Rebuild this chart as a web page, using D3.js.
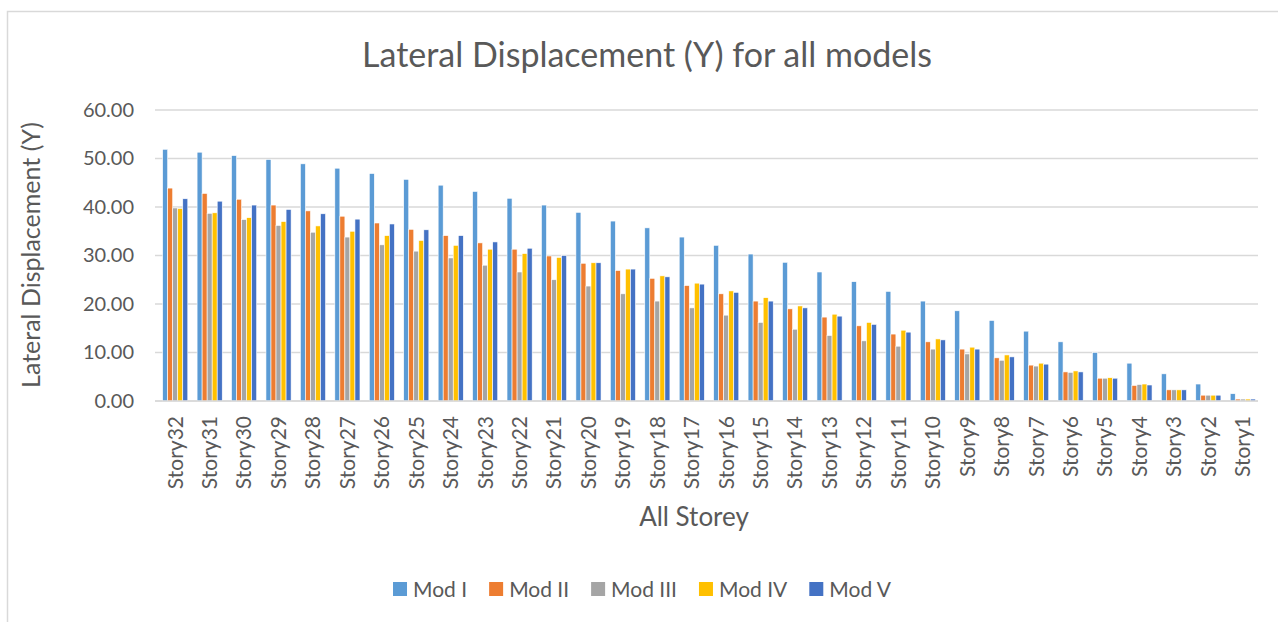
<!DOCTYPE html>
<html>
<head>
<meta charset="utf-8">
<script src="https://cdn.jsdelivr.net/npm/d3@7"></script>
<style>
  body { margin: 0; background: #fff; }
  text { font-family: Lato, "Open Sans", sans-serif; fill: #595959; }
</style>
</head>
<body>
<div id="chart"></div>
<script>
// storeys, top to bottom as in the chart
var storeys = ["Story32","Story31","Story30","Story29","Story28","Story27","Story26","Story25",
    "Story24","Story23","Story22","Story21","Story20","Story19","Story18","Story17",
    "Story16","Story15","Story14","Story13","Story12","Story11","Story10","Story9",
    "Story8","Story7","Story6","Story5","Story4","Story3","Story2","Story1"];

var models = ["Mod I", "Mod II", "Mod III", "Mod IV", "Mod V"];
var colors = ["#5B9BD5", "#ED7D31", "#A5A5A5", "#FFC000", "#4472C4"];

var modI   = [51.9,51.3,50.6,49.8,48.9,48.0,46.9,45.7,44.5,43.2,41.8,40.4,38.9,37.1,35.7,33.8,
              32.1,30.3,28.6,26.6,24.6,22.6,20.6,18.6,16.6,14.4,12.2,10.0,7.8,5.6,3.5,1.5];
var modII  = [43.9,42.8,41.6,40.4,39.2,38.1,36.7,35.4,34.1,32.6,31.3,29.9,28.4,26.9,25.3,23.8,
              22.1,20.6,19.0,17.3,15.5,13.8,12.2,10.7,8.9,7.4,6.0,4.7,3.2,2.3,1.2,0.4];
var modIII = [39.8,38.7,37.4,36.2,34.8,33.8,32.2,30.9,29.5,28.0,26.6,25.0,23.7,22.1,20.6,19.2,
              17.7,16.2,14.8,13.5,12.4,11.3,10.7,9.7,8.4,7.2,5.9,4.7,3.4,2.3,1.2,0.4];
var modIV  = [39.7,38.8,37.8,37.0,36.1,35.0,34.1,33.1,32.1,31.3,30.4,29.6,28.5,27.2,25.8,24.3,
              22.7,21.3,19.6,17.9,16.2,14.6,12.8,11.1,9.5,7.8,6.2,4.8,3.5,2.3,1.2,0.4];
var modV   = [41.7,41.2,40.4,39.5,38.6,37.5,36.5,35.3,34.1,32.8,31.5,30.0,28.5,27.2,25.6,24.1,
              22.4,20.6,19.2,17.5,15.8,14.2,12.6,10.7,9.1,7.6,6.0,4.7,3.3,2.3,1.2,0.4];

var yTicks = [0, 10, 20, 30, 40, 50, 60];

var series = [modI, modII, modIII, modIV, modV];
var rows = storeys.map(function(s, i) {
    return { storey: s, values: series.map(function(arr) { return arr[i]; }) };
});

var width = 1278, height = 622;
var plot = {left: 158, right: 1260, top: 110, bottom: 401};

var svg = d3.select("#chart").append("svg")
    .attr("width", width)
    .attr("height", height);

// chart frame
svg.append("rect")
    .attr("x", 7.5).attr("y", 11.5)
    .attr("width", width).attr("height", height)
    .attr("fill", "none")
    .attr("stroke", "#d9d9d9")
    .attr("stroke-width", 1.5);

var x0 = d3.scaleBand()
    .domain(storeys)
    .range([plot.left, plot.right])
    .paddingInner(0.27)
    .paddingOuter(0.135);

var x1 = d3.scaleBand()
    .domain(d3.range(models.length))
    .range([0, x0.bandwidth()]);

var y = d3.scaleLinear()
    .domain([0, 60])
    .range([plot.bottom, plot.top]);

// gridlines
svg.append("g")
    .selectAll("line")
    .data(yTicks)
    .enter()
    .append("line")
    .attr("x1", plot.left - 3)
    .attr("x2", plot.right - 2)
    .attr("y1", function(d) { return y(d); })
    .attr("y2", function(d) { return y(d); })
    .attr("stroke", "#d9d9d9")
    .attr("stroke-width", 1.5);

// y axis labels
var yAxis = d3.axisLeft(y)
    .tickValues(yTicks)
    .tickFormat(d3.format(".2f"))
    .tickSize(0)
    .tickPadding(0);

var yG = svg.append("g")
    .attr("transform", "translate(134,0)")
    .call(yAxis);
yG.select(".domain").remove();
yG.selectAll("text")
    .style("font-family", "Lato, sans-serif")
    .style("font-size", "20px")
    .attr("fill", "#595959");

// bars
var groups = svg.append("g")
    .selectAll("g")
    .data(rows)
    .enter()
    .append("g")
    .attr("transform", function(d) { return "translate(" + x0(d.storey) + ",0)"; });

groups.selectAll("rect")
    .data(function(d) { return d.values; })
    .enter()
    .append("rect")
    .attr("x", function(d, i) { return x1(i); })
    .attr("y", function(d) { return y(d); })
    .attr("width", x1.bandwidth())
    .attr("height", function(d) { return y(0) - y(d); })
    .attr("fill", function(d, i) { return colors[i]; })
    .attr("stroke", "#ffffff")
    .attr("stroke-width", 0.6);

// x axis
var xAxis = d3.axisBottom(x0)
    .tickSize(0)
    .tickPadding(0);

var xG = svg.append("g")
    .attr("transform", "translate(0," + plot.bottom + ")")
    .call(xAxis);
xG.select(".domain")
    .attr("stroke", "#d9d9d9")
    .attr("stroke-width", 1.5)
    .attr("d", "M" + (plot.left - 3) + ",0H" + (plot.right - 2));
xG.selectAll("text")
    .style("font-family", "Lato, sans-serif")
    .style("font-size", "21px")
    .attr("fill", "#595959")
    .attr("text-anchor", "end")
    .attr("transform", "rotate(-90)")
    .attr("x", -15)
    .attr("y", 0)
    .attr("dy", "0.35em");

// title
svg.append("text")
    .attr("x", 647)
    .attr("y", 67)
    .attr("text-anchor", "middle")
    .style("font-size", "34px")
    .text("Lateral Displacement (Y) for all models");

// axis titles
svg.append("text")
    .attr("transform", "translate(40,255) rotate(-90)")
    .attr("text-anchor", "middle")
    .style("font-size", "25px")
    .text("Lateral Displacement (Y)");

svg.append("text")
    .attr("x", 694)
    .attr("y", 526)
    .attr("text-anchor", "middle")
    .style("font-size", "26px")
    .text("All Storey");

// legend
var legend = svg.append("g").attr("transform", "translate(0,589)");
var items = legend.selectAll("g")
    .data(models)
    .enter()
    .append("g");

items.append("rect")
    .attr("y", -7)
    .attr("width", 14)
    .attr("height", 14)
    .attr("fill", function(d, i) { return colors[i]; });

items.append("text")
    .attr("x", 20)
    .attr("dy", "0.36em")
    .style("font-size", "21px")
    .text(function(d) { return d; });

var pos = 0, gap = 22, offsets = [];
items.each(function() {
    offsets.push(pos);
    pos += 20 + d3.select(this).select("text").node().getComputedTextLength() + gap;
});
var total = pos - gap;
var start = 642 - total / 2;
items.attr("transform", function(d, i) { return "translate(" + (start + offsets[i]) + ",0)"; });
</script>
</body>
</html>
